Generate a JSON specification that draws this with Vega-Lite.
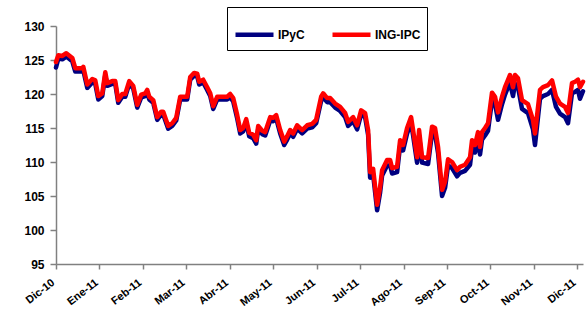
{
  "$schema": "https://vega.github.io/schema/vega-lite/v6.json",
  "width": 527,
  "height": 238,
  "autosize": {"type": "none"},
  "padding": {"left": 56, "top": 26, "right": 3, "bottom": 49},
  "background": "white",
  "config": {"view": {"stroke": null}, "font": "Liberation Sans"},
  "data": {"values": [
    {"t":0,"IPyC":123.9,"ING-IPC":124.7},
    {"t":0.053,"IPyC":125.2,"ING-IPC":125.7},
    {"t":0.145,"IPyC":125.1,"ING-IPC":125.6},
    {"t":0.237,"IPyC":125.5,"ING-IPC":126.0},
    {"t":0.375,"IPyC":124.8,"ING-IPC":125.3},
    {"t":0.444,"IPyC":123.3,"ING-IPC":123.8},
    {"t":0.605,"IPyC":123.3,"ING-IPC":123.8},
    {"t":0.628,"IPyC":123.5,"ING-IPC":124.0},
    {"t":0.72,"IPyC":120.9,"ING-IPC":121.4},
    {"t":0.835,"IPyC":121.7,"ING-IPC":122.2},
    {"t":0.904,"IPyC":121.5,"ING-IPC":122.0},
    {"t":0.973,"IPyC":119.2,"ING-IPC":119.7},
    {"t":1.065,"IPyC":119.7,"ING-IPC":120.1},
    {"t":1.134,"IPyC":122.8,"ING-IPC":123.2},
    {"t":1.18,"IPyC":121.2,"ING-IPC":121.6},
    {"t":1.295,"IPyC":121.5,"ING-IPC":121.9},
    {"t":1.364,"IPyC":121.5,"ING-IPC":121.9},
    {"t":1.433,"IPyC":118.7,"ING-IPC":119.1},
    {"t":1.525,"IPyC":119.6,"ING-IPC":120.0},
    {"t":1.594,"IPyC":119.6,"ING-IPC":120.0},
    {"t":1.686,"IPyC":121.5,"ING-IPC":121.9},
    {"t":1.778,"IPyC":120.8,"ING-IPC":121.2},
    {"t":1.87,"IPyC":118.0,"ING-IPC":118.4},
    {"t":1.962,"IPyC":119.5,"ING-IPC":119.9},
    {"t":2.054,"IPyC":119.7,"ING-IPC":120.1},
    {"t":2.1,"IPyC":120.2,"ING-IPC":120.6},
    {"t":2.146,"IPyC":119.2,"ING-IPC":119.6},
    {"t":2.238,"IPyC":118.7,"ING-IPC":119.1},
    {"t":2.33,"IPyC":116.2,"ING-IPC":116.6},
    {"t":2.422,"IPyC":117.0,"ING-IPC":117.4},
    {"t":2.468,"IPyC":117.0,"ING-IPC":117.4},
    {"t":2.583,"IPyC":114.9,"ING-IPC":115.3},
    {"t":2.675,"IPyC":115.3,"ING-IPC":115.7},
    {"t":2.767,"IPyC":116.1,"ING-IPC":116.5},
    {"t":2.859,"IPyC":119.2,"ING-IPC":119.6},
    {"t":3.02,"IPyC":119.2,"ING-IPC":119.6},
    {"t":3.089,"IPyC":122.1,"ING-IPC":122.5},
    {"t":3.181,"IPyC":122.7,"ING-IPC":123.1},
    {"t":3.25,"IPyC":122.6,"ING-IPC":123.0},
    {"t":3.296,"IPyC":121.4,"ING-IPC":121.8},
    {"t":3.388,"IPyC":121.7,"ING-IPC":122.1},
    {"t":3.48,"IPyC":120.6,"ING-IPC":121.0},
    {"t":3.55,"IPyC":119.7,"ING-IPC":120.1},
    {"t":3.619,"IPyC":117.8,"ING-IPC":118.2},
    {"t":3.711,"IPyC":119.2,"ING-IPC":119.6},
    {"t":3.941,"IPyC":119.2,"ING-IPC":119.6},
    {"t":4.01,"IPyC":119.5,"ING-IPC":120.0},
    {"t":4.079,"IPyC":118.9,"ING-IPC":119.4},
    {"t":4.171,"IPyC":116.4,"ING-IPC":116.9},
    {"t":4.24,"IPyC":114.2,"ING-IPC":114.7},
    {"t":4.309,"IPyC":114.5,"ING-IPC":115.0},
    {"t":4.378,"IPyC":115.8,"ING-IPC":116.3},
    {"t":4.447,"IPyC":113.8,"ING-IPC":114.3},
    {"t":4.539,"IPyC":113.5,"ING-IPC":114.0},
    {"t":4.608,"IPyC":112.7,"ING-IPC":113.2},
    {"t":4.654,"IPyC":114.8,"ING-IPC":115.3},
    {"t":4.746,"IPyC":114.1,"ING-IPC":114.6},
    {"t":4.815,"IPyC":113.9,"ING-IPC":114.4},
    {"t":4.93,"IPyC":116.1,"ING-IPC":116.6},
    {"t":4.999,"IPyC":116.0,"ING-IPC":116.5},
    {"t":5.068,"IPyC":116.4,"ING-IPC":116.9},
    {"t":5.16,"IPyC":114.2,"ING-IPC":114.7},
    {"t":5.252,"IPyC":112.5,"ING-IPC":113.0},
    {"t":5.321,"IPyC":113.3,"ING-IPC":113.8},
    {"t":5.39,"IPyC":114.2,"ING-IPC":114.7},
    {"t":5.459,"IPyC":113.7,"ING-IPC":114.2},
    {"t":5.551,"IPyC":114.9,"ING-IPC":115.4},
    {"t":5.666,"IPyC":114.2,"ING-IPC":114.7},
    {"t":5.781,"IPyC":114.9,"ING-IPC":115.4},
    {"t":5.896,"IPyC":115.1,"ING-IPC":115.6},
    {"t":5.988,"IPyC":115.7,"ING-IPC":116.2},
    {"t":6.103,"IPyC":119.0,"ING-IPC":119.6},
    {"t":6.149,"IPyC":119.5,"ING-IPC":120.1},
    {"t":6.241,"IPyC":118.8,"ING-IPC":119.4},
    {"t":6.31,"IPyC":118.8,"ING-IPC":119.4},
    {"t":6.425,"IPyC":118.0,"ING-IPC":118.6},
    {"t":6.54,"IPyC":117.5,"ING-IPC":118.1},
    {"t":6.655,"IPyC":116.6,"ING-IPC":117.2},
    {"t":6.724,"IPyC":115.3,"ING-IPC":115.9},
    {"t":6.839,"IPyC":116.0,"ING-IPC":116.6},
    {"t":6.931,"IPyC":114.8,"ING-IPC":115.4},
    {"t":7.023,"IPyC":117.0,"ING-IPC":117.6},
    {"t":7.115,"IPyC":116.6,"ING-IPC":117.2},
    {"t":7.184,"IPyC":114.0,"ING-IPC":114.7},
    {"t":7.23,"IPyC":107.7,"ING-IPC":108.5},
    {"t":7.299,"IPyC":108.2,"ING-IPC":109.0},
    {"t":7.391,"IPyC":102.9,"ING-IPC":103.7},
    {"t":7.46,"IPyC":105.5,"ING-IPC":106.3},
    {"t":7.506,"IPyC":108.0,"ING-IPC":108.8},
    {"t":7.621,"IPyC":109.5,"ING-IPC":110.3},
    {"t":7.69,"IPyC":109.5,"ING-IPC":110.3},
    {"t":7.736,"IPyC":108.3,"ING-IPC":109.1},
    {"t":7.851,"IPyC":108.5,"ING-IPC":109.3},
    {"t":7.92,"IPyC":112.4,"ING-IPC":113.2},
    {"t":7.989,"IPyC":111.7,"ING-IPC":112.5},
    {"t":8.081,"IPyC":114.2,"ING-IPC":115.0},
    {"t":8.173,"IPyC":115.8,"ING-IPC":116.6},
    {"t":8.219,"IPyC":113.9,"ING-IPC":114.7},
    {"t":8.311,"IPyC":109.9,"ING-IPC":110.7},
    {"t":8.357,"IPyC":113.9,"ING-IPC":114.7},
    {"t":8.426,"IPyC":109.9,"ING-IPC":110.7},
    {"t":8.564,"IPyC":109.7,"ING-IPC":110.6},
    {"t":8.656,"IPyC":114.3,"ING-IPC":115.2},
    {"t":8.725,"IPyC":114.1,"ING-IPC":115.0},
    {"t":8.794,"IPyC":111.3,"ING-IPC":112.2},
    {"t":8.886,"IPyC":105.0,"ING-IPC":105.9},
    {"t":8.955,"IPyC":106.2,"ING-IPC":107.1},
    {"t":9.024,"IPyC":109.5,"ING-IPC":110.4},
    {"t":9.116,"IPyC":109.1,"ING-IPC":110.0},
    {"t":9.231,"IPyC":107.9,"ING-IPC":108.8},
    {"t":9.3,"IPyC":108.4,"ING-IPC":109.3},
    {"t":9.415,"IPyC":108.7,"ING-IPC":109.6},
    {"t":9.53,"IPyC":109.6,"ING-IPC":110.7},
    {"t":9.576,"IPyC":112.1,"ING-IPC":113.2},
    {"t":9.645,"IPyC":111.4,"ING-IPC":112.5},
    {"t":9.714,"IPyC":113.3,"ING-IPC":114.4},
    {"t":9.76,"IPyC":111.1,"ING-IPC":112.2},
    {"t":9.806,"IPyC":113.3,"ING-IPC":114.4},
    {"t":9.875,"IPyC":113.9,"ING-IPC":115.0},
    {"t":9.944,"IPyC":114.6,"ING-IPC":115.7},
    {"t":10.036,"IPyC":119.1,"ING-IPC":120.2},
    {"t":10.105,"IPyC":118.5,"ING-IPC":119.6},
    {"t":10.174,"IPyC":116.2,"ING-IPC":117.3},
    {"t":10.266,"IPyC":118.5,"ING-IPC":119.6},
    {"t":10.335,"IPyC":119.9,"ING-IPC":121.0},
    {"t":10.404,"IPyC":121.0,"ING-IPC":122.1},
    {"t":10.45,"IPyC":121.6,"ING-IPC":122.8},
    {"t":10.519,"IPyC":119.7,"ING-IPC":121.0},
    {"t":10.565,"IPyC":121.5,"ING-IPC":122.8},
    {"t":10.634,"IPyC":121.0,"ING-IPC":122.3},
    {"t":10.726,"IPyC":117.8,"ING-IPC":119.1},
    {"t":10.864,"IPyC":117.2,"ING-IPC":118.5},
    {"t":10.979,"IPyC":114.8,"ING-IPC":116.2},
    {"t":11.025,"IPyC":112.5,"ING-IPC":114.2},
    {"t":11.14,"IPyC":119.3,"ING-IPC":120.6},
    {"t":11.209,"IPyC":119.7,"ING-IPC":121.0},
    {"t":11.325,"IPyC":120.0,"ING-IPC":121.3},
    {"t":11.417,"IPyC":120.6,"ING-IPC":122.0},
    {"t":11.509,"IPyC":118.1,"ING-IPC":119.6},
    {"t":11.601,"IPyC":117.1,"ING-IPC":118.6},
    {"t":11.716,"IPyC":116.6,"ING-IPC":118.1},
    {"t":11.785,"IPyC":115.7,"ING-IPC":117.2},
    {"t":11.877,"IPyC":120.1,"ING-IPC":121.6},
    {"t":11.946,"IPyC":120.3,"ING-IPC":121.8},
    {"t":12.015,"IPyC":120.6,"ING-IPC":122.1},
    {"t":12.061,"IPyC":119.3,"ING-IPC":121.0},
    {"t":12.13,"IPyC":120.4,"ING-IPC":121.8}
  ]},
  "transform": [{"fold": ["IPyC", "ING-IPC"], "as": ["serie", "valor"]}],
  "mark": {"type": "line", "strokeWidth": 4.5, "strokeJoin": "round", "strokeCap": "round"},
  "encoding": {
    "x": {
      "field": "t", "type": "quantitative",
      "scale": {"domain": [0, 12.13], "nice": false, "zero": false},
      "axis": {
        "title": null, "grid": false,
        "values": [0,1,2,3,4,5,6,7,8,9,10,11,12],
        "labelExpr": "['Dic-10','Ene-11','Feb-11','Mar-11','Abr-11','May-11','Jun-11','Jul-11','Ago-11','Sep-11','Oct-11','Nov-11','Dic-11'][datum.value]",
        "labelAngle": -38, "labelAlign": "right", "labelBaseline": "middle",
        "labelFont": "Liberation Sans", "labelFontWeight": "bold", "labelFontSize": 11, "labelColor": "black",
        "labelPadding": 12, "labelOffset": -3, "labelOverlap": false, "labelBound": false, "labelFlush": false,
        "tickSize": 5, "tickColor": "#808080", "domainColor": "#808080", "domainWidth": 1.5, "tickWidth": 1.5
      }
    },
    "y": {
      "field": "valor", "type": "quantitative",
      "scale": {"domain": [95, 130], "nice": false, "zero": false},
      "axis": {
        "title": null, "grid": false,
        "values": [95,100,105,110,115,120,125,130],
        "labelFont": "Liberation Sans", "labelFontWeight": "bold", "labelFontSize": 12, "labelColor": "black",
        "labelPadding": 6, "tickSize": 6, "tickColor": "#808080", "domainColor": "#808080", "domainWidth": 1.5, "tickWidth": 1.5
      }
    },
    "color": {
      "field": "serie", "type": "nominal",
      "scale": {"domain": ["IPyC", "ING-IPC"], "range": ["#000080", "#FF0000"]},
      "legend": {
        "title": null, "orient": "none", "direction": "horizontal",
        "legendX": 171, "legendY": -19,
        "symbolType": "stroke", "symbolSize": 1444, "symbolStrokeWidth": 4.5,
        "labelFont": "Liberation Sans", "labelFontWeight": "bold", "labelFontSize": 12, "labelColor": "black",
        "labelOffset": 2, "columnPadding": 18,
        "padding": 6, "strokeColor": "black", "fillColor": "white"
      }
    },
    "order": {"field": "t", "type": "quantitative"}
  }
}
